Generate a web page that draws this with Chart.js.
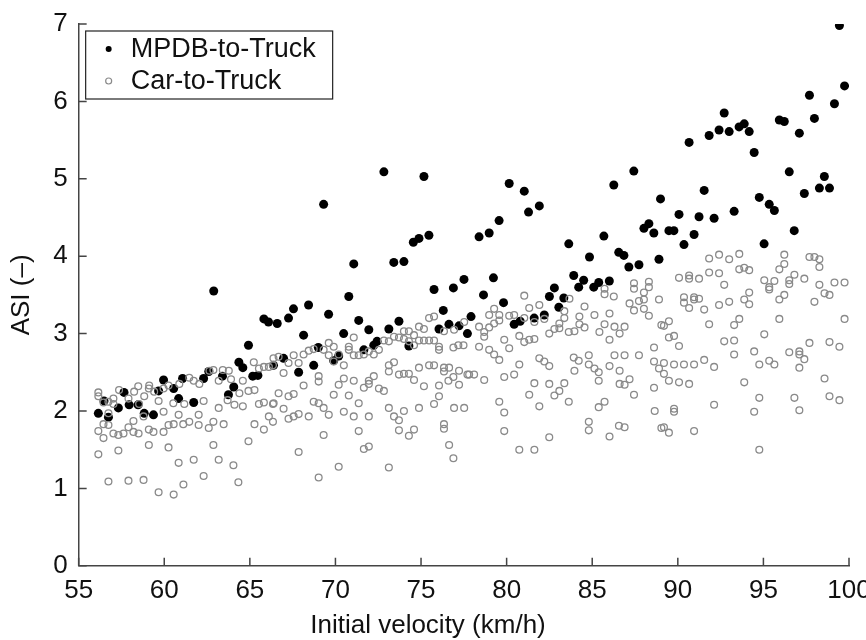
<!DOCTYPE html>
<html>
<head>
<meta charset="utf-8">
<title>ASI vs initial velocity</title>
<script src="https://cdn.jsdelivr.net/npm/chart.js@4.4.1/dist/chart.umd.min.js"></script>
<style>
  html, body { margin: 0; padding: 0; background: #fff; }
  #wrap { width: 866px; height: 640px; }
</style>
</head>
<body>
<div id="wrap"><canvas id="myChart" width="866" height="640"></canvas></div>
<script>
// series labels + axis titles
const seriesLabels = ['MPDB-to-Truck', 'Car-to-Truck'];
const xTitle = 'Initial velocity (km/h)';
const yTitle = 'ASI (\u2013)';

// tick labels
const xTicks = [55, 60, 65, 70, 75, 80, 85, 90, 95, 100];
const yTicks = [0, 1, 2, 3, 4, 5, 6, 7];

// MPDB-to-Truck (filled dots)
const mpdbVelocity = [
  56.15, 56.48, 56.74, 57.32, 57.65, 57.95, 58.47, 58.83, 59.37, 59.67,
  59.96, 60.55, 60.84, 61.07, 61.72, 62.30, 62.60, 62.89, 63.40, 63.75,
  64.06, 64.36, 64.59, 64.92, 65.17, 65.47, 65.82, 66.09, 66.38, 66.60,
  66.97, 67.26, 67.55, 67.85, 68.14, 68.43, 68.73, 69.00, 69.31, 69.60,
  69.90, 70.19, 70.48, 70.78, 71.07, 71.36, 71.66, 71.95, 72.24, 72.43,
  72.83, 73.12, 73.41, 73.71, 74.00, 74.29, 74.55, 74.88, 75.17, 75.46,
  75.76, 76.05, 76.30, 76.63, 76.89, 77.22, 77.51, 77.71, 77.92, 78.39,
  78.65, 78.98, 79.23, 79.56, 79.82, 80.15, 80.44, 80.79, 81.03, 81.28,
  81.61, 81.91, 82.20, 82.50, 82.79, 83.05, 83.34, 83.63, 83.92, 84.21,
  84.50, 84.84, 85.09, 85.38, 85.68, 86.00, 86.26, 86.55, 86.85, 87.14,
  87.43, 87.73, 88.02, 88.31, 88.60, 88.90, 88.99, 89.48, 89.77, 90.07,
  90.36, 90.66, 90.95, 91.24, 91.54, 91.83, 92.12, 92.41, 92.71, 93.00,
  93.29, 93.58, 93.88, 94.17, 94.46, 94.76, 95.04, 95.34, 95.64, 95.93,
  96.22, 96.51, 96.80, 97.10, 97.39, 97.69, 97.98, 98.27, 98.56, 98.86,
  99.15, 99.44, 99.74
];
const mpdbAsi = [
  1.97, 2.13, 1.92, 2.04, 2.24, 2.08, 2.08, 1.97, 1.95, 2.26,
  2.40, 2.29, 2.16, 2.42, 2.11, 2.42, 2.51, 3.55, 2.45, 2.21,
  2.31, 2.63, 2.56, 2.85, 2.45, 2.46, 3.19, 3.15, 2.59, 3.13,
  2.68, 3.20, 3.32, 2.50, 2.98, 3.37, 2.59, 2.82, 4.67, 3.25,
  2.65, 2.71, 3.00, 3.48, 3.90, 3.17, 2.79, 3.05, 2.85, 2.90,
  5.09, 3.06, 3.92, 3.16, 3.93, 2.84, 4.18, 4.23, 5.03, 4.27,
  3.57, 3.06, 3.30, 3.12, 3.59, 3.10, 3.70, 3.00, 3.22, 4.25,
  3.50, 4.30, 3.72, 4.46, 3.40, 4.94, 3.12, 3.16, 4.84, 4.57,
  3.20, 4.65, 3.24, 3.48, 3.59, 3.34, 3.46, 4.16, 3.75, 3.60,
  3.69, 3.99, 3.60, 3.66, 4.26, 3.68, 4.92, 4.05, 4.01, 3.86,
  5.10, 3.89, 4.36, 4.42, 4.30, 3.96, 4.74, 4.33, 4.33, 4.54,
  4.15, 5.47, 4.28, 4.51, 4.85, 5.56, 4.49, 5.63, 5.85, 5.61,
  4.58, 5.67, 5.71, 5.61, 5.34, 4.76, 4.16, 4.67, 4.59, 5.76,
  5.74, 5.09, 4.33, 5.59, 4.81, 6.08, 5.78, 4.88, 5.03, 4.88,
  5.97, 6.98, 6.20
];

// Car-to-Truck (hollow circles)
const carVelocity = [
  // 55-66
  56.15, 56.15, 56.45, 56.74, 57.03, 57.36, 57.03, 57.91, 58.24, 58.48,
  58.53, 58.83, 59.12, 59.41, 59.10, 59.67, 59.96, 60.25, 60.53, 60.88,
  61.17, 61.46, 61.72, 62.05, 62.30, 62.64, 62.87, 63.18, 63.42, 63.77,
  63.90, 64.39, 64.59, 64.92, 65.27, 65.23, 65.53, 65.82, 66.11, 66.38,
  66.35, 65.53, 65.82, 66.35, 66.11, 66.35, 65.27, 65.82, 64.92, 64.59,
  64.10, 63.70, 63.18, 62.87, 63.47, 62.60, 62.01, 62.01, 61.46, 61.11,
  60.84, 60.55, 60.25, 59.96, 59.96, 59.37, 59.10, 58.79, 58.50, 58.20,
  58.20, 57.91, 57.62, 57.32, 57.03, 56.74, 56.45, 56.15, 56.45, 56.74,
  56.15, 57.32, 59.10, 60.25, 62.87, 60.84, 61.72, 63.18, 64.04, 56.74,
  57.91, 58.79, 62.30, 61.12, 64.33, 59.67, 60.55,
  // 66-78
  66.68, 66.97, 67.26, 67.56, 67.85, 68.14, 68.44, 68.73, 69.31, 69.61,
  69.90, 69.61, 69.90, 70.19, 70.49, 70.78, 71.07, 70.78, 71.07, 71.36,
  71.66, 71.95, 72.24, 72.54, 72.83, 73.12, 73.42, 73.71, 74.00, 74.29,
  74.59, 74.88, 75.17, 75.47, 75.76, 74.00, 74.29, 74.59, 74.88, 75.17,
  75.47, 75.76, 76.05, 76.05, 76.34, 76.93, 77.52, 76.89, 77.18, 77.48,
  68.14, 69.02, 69.02, 70.19, 70.49, 71.07, 71.66, 71.95, 71.95, 72.24,
  72.54, 72.83, 73.12, 73.42, 73.12, 73.71, 74.00, 74.29, 74.59, 74.88,
  75.17, 75.47, 75.76, 76.05, 76.34, 76.34, 76.64, 76.60, 76.89, 77.22,
  77.22, 77.71, 66.68, 67.26, 67.56, 66.39, 66.97, 67.26, 67.56, 67.85,
  68.44, 68.73, 69.02, 69.31, 69.61, 69.90, 70.49, 70.78, 71.07, 71.36,
  71.95, 73.12, 73.42, 73.71, 74.00, 74.88, 75.76, 76.05, 76.34, 76.34,
  76.93, 77.52, 73.71, 74.29, 74.59, 71.36, 69.31, 67.85, 71.66, 71.95,
  76.64, 76.89, 70.19, 73.12, 69.02,
  // 78-89
  78.39, 78.39, 78.69, 78.98, 79.27, 79.57, 79.57, 79.27, 78.98, 78.69,
  79.86, 80.15, 80.15, 80.44, 80.74, 81.03, 81.03, 81.32, 81.32, 81.62,
  81.91, 81.03, 81.62, 82.20, 82.49, 82.79, 83.08, 83.08, 83.37, 83.37,
  83.67, 83.63, 83.96, 84.25, 84.25, 84.55, 84.55, 85.13, 85.42, 85.72,
  85.72, 85.72, 86.01, 86.01, 86.26, 86.30, 86.60, 86.89, 87.18, 87.44,
  87.44, 87.44, 87.73, 88.02, 88.02, 88.02, 88.31, 88.31, 88.31, 88.90,
  89.04, 78.98, 79.27, 79.57, 79.86, 80.44, 80.74, 81.91, 82.20, 82.49,
  83.92, 84.21, 84.80, 84.80, 85.13, 85.38, 85.38, 86.01, 86.30, 86.60,
  86.60, 86.89, 86.89, 87.18, 87.73, 88.61, 88.61, 88.61, 88.65, 77.81,
  78.10, 78.69, 81.62, 82.49, 82.79, 83.08, 83.37, 81.32, 83.63, 83.96,
  81.91, 79.57, 79.86, 79.86, 85.38, 85.72, 84.80, 84.80, 86.56, 86.89,
  87.44, 86.01, 82.49, 80.74, 81.62, 89.04,
  // 89-100
  91.83, 92.41, 93.00, 93.59, 93.59, 93.88, 94.17, 91.83, 92.41, 91.24,
  90.66, 90.66, 90.07, 92.71, 95.05, 95.34, 95.34, 95.64, 95.93, 96.22,
  96.22, 96.51, 96.51, 96.81, 97.39, 97.69, 97.98, 98.27, 98.27, 98.27,
  99.15, 99.74, 98.57, 98.86, 97.98, 96.22, 95.93, 94.17, 93.88, 94.17,
  93.00, 92.41, 91.24, 90.95, 90.95, 90.36, 90.36, 90.66, 91.54, 93.59,
  93.29, 91.83, 89.48, 89.19, 89.48, 89.78, 90.07, 95.93, 99.74, 95.05,
  92.71, 93.29, 93.29, 94.46, 96.51, 97.10, 97.10, 97.39, 97.69, 98.86,
  99.44, 97.10, 95.34, 95.64, 94.76, 92.12, 91.54, 90.95, 90.36, 89.78,
  89.19, 88.90, 89.19, 89.48, 90.07, 90.66, 93.88, 98.57, 94.76, 96.81,
  98.86, 99.44, 92.12, 89.78, 89.78, 94.46, 97.10, 89.19, 89.48, 90.95,
  94.76
];
const carAsi = [
  // 55-66
  2.24, 2.19, 2.11, 2.12, 2.16, 2.27, 2.09, 2.16, 2.25, 2.32,
  2.09, 2.19, 2.33, 2.25, 2.29, 2.13, 2.29, 2.33, 2.10, 2.35,
  2.09, 2.43, 2.39, 2.35, 2.13, 2.52, 2.53, 2.39, 2.53, 2.52,
  2.41, 2.23, 2.39, 2.26, 2.27, 2.63, 2.55, 2.57, 2.57, 2.68,
  2.59, 2.09, 2.11, 2.09, 1.93, 1.86, 1.83, 1.76, 1.61, 2.06,
  2.08, 2.14, 2.04, 1.86, 1.83, 1.78, 1.95, 1.82, 1.86, 1.83,
  1.95, 1.83, 1.82, 1.99, 1.73, 1.73, 1.76, 1.93, 1.71, 1.73,
  1.87, 1.79, 1.71, 1.69, 1.71, 1.82, 1.83, 1.74, 1.65, 1.97,
  1.44, 1.49, 1.56, 1.53, 1.56, 1.33, 1.37, 1.37, 1.30, 1.09,
  1.10, 1.11, 1.16, 1.05, 1.08, 0.95, 0.92,
  // 66-78
  2.70, 2.49, 2.62, 2.72, 2.62, 2.73, 2.78, 2.80, 2.79, 2.88,
  2.83, 2.72, 2.64, 2.73, 2.59, 2.83, 2.95, 2.79, 2.72, 2.72,
  2.73, 2.77, 2.73, 2.79, 2.91, 2.90, 2.96, 2.95, 3.03, 3.03,
  2.98, 3.09, 3.06, 3.20, 3.22, 2.93, 2.90, 2.85, 2.91, 2.91,
  2.91, 2.91, 2.83, 2.79, 3.03, 3.05, 3.15, 2.82, 2.85, 2.85,
  2.33, 2.45, 2.38, 2.34, 2.42, 2.39, 2.30, 2.35, 2.39, 2.45,
  2.29, 2.26, 2.51, 2.63, 2.59, 2.47, 2.48, 2.48, 2.40, 2.56,
  2.32, 2.59, 2.59, 2.33, 2.56, 2.51, 2.56, 2.39, 2.44, 2.52,
  2.34, 2.47, 2.23, 2.19, 2.22, 2.10, 2.03, 1.90, 1.93, 1.96,
  1.93, 2.12, 2.10, 2.04, 1.95, 2.21, 1.99, 2.20, 1.93, 2.10,
  1.93, 2.04, 1.93, 1.88, 2.00, 2.04, 2.09, 2.19, 1.83, 1.77,
  2.04, 2.04, 1.75, 1.68, 1.76, 1.74, 1.69, 1.47, 1.51, 1.54,
  1.56, 1.39, 1.28, 1.27, 1.14,
  // 78-89
  3.09, 2.83, 2.96, 3.24, 3.32, 3.24, 3.17, 3.13, 3.08, 3.02,
  2.92, 2.81, 3.23, 3.24, 2.97, 3.49, 2.89, 3.33, 2.92, 2.93,
  3.37, 3.20, 3.15, 3.19, 3.00, 3.06, 3.07, 3.13, 3.29, 3.20,
  3.45, 3.02, 3.03, 3.22, 3.12, 3.35, 3.08, 3.24, 3.02, 3.12,
  3.51, 3.58, 3.26, 2.92, 3.48, 3.09, 3.00, 3.09, 3.39, 3.65,
  3.58, 3.30, 3.42, 3.44, 3.53, 3.32, 3.67, 3.60, 3.23, 3.44,
  3.11, 2.79, 2.73, 2.66, 2.44, 2.47, 2.60, 2.68, 2.64, 2.58,
  2.69, 2.65, 2.72, 2.60, 2.55, 2.50, 2.39, 2.58, 2.72, 2.52,
  2.35, 2.34, 2.72, 2.41, 2.72, 2.82, 2.64, 2.30, 2.00, 2.47,
  2.47, 2.40, 2.36, 2.35, 2.20, 2.26, 2.36, 2.21, 2.12, 2.52,
  2.06, 2.12, 1.98, 1.74, 2.05, 2.12, 1.86, 1.75, 1.81, 1.79,
  2.21, 1.67, 1.66, 1.50, 1.50, 1.78,
  // 89-100
  3.97, 4.02, 3.96, 4.03, 3.83, 3.85, 3.82, 3.79, 3.78, 3.71,
  3.75, 3.71, 3.72, 3.63, 3.69, 3.60, 3.57, 3.68, 3.83, 3.90,
  4.02, 3.69, 3.64, 3.76, 3.71, 3.99, 3.99, 3.96, 3.86, 3.63,
  3.66, 3.66, 3.52, 3.50, 3.41, 3.50, 3.44, 3.53, 3.44, 3.38,
  3.41, 3.37, 3.45, 3.47, 3.44, 3.47, 3.40, 3.33, 3.31, 3.19,
  3.11, 3.12, 3.16, 3.10, 2.95, 2.97, 2.84, 3.19, 3.19, 2.99,
  2.90, 2.91, 2.73, 2.77, 2.76, 2.77, 2.73, 2.67, 2.88, 2.89,
  2.83, 2.56, 2.65, 2.60, 2.60, 2.57, 2.66, 2.60, 2.60, 2.60,
  2.62, 2.55, 2.48, 2.39, 2.37, 2.35, 2.37, 2.42, 2.17, 2.17,
  2.19, 2.14, 2.08, 2.03, 1.99, 1.99, 2.01, 1.79, 1.72, 1.74,
  1.50
];

const fontFamily = '"Liberation Sans", Arial, Helvetica, sans-serif';

// pair up x/y arrays for a scatter dataset
function toPoints(xs, ys) {
  return xs.map((x, i) => ({ x: x, y: ys[i] }));
}

// inward tick marks, boxed legend and the x title (drawn by hand)
const frameExtras = {
  id: 'frameExtras',
  afterDraw(chart) {
    const c = chart.ctx;
    const area = chart.chartArea;
    const xs = chart.scales.x;
    const ys = chart.scales.y;
    c.save();

    // ticks point into the plot
    c.strokeStyle = '#444';
    c.lineWidth = 1.5;
    c.beginPath();
    xs.ticks.forEach((t) => {
      const px = xs.getPixelForValue(t.value);
      c.moveTo(px, area.bottom);
      c.lineTo(px, area.bottom - 8);
    });
    ys.ticks.forEach((t) => {
      const py = ys.getPixelForValue(t.value);
      c.moveTo(area.left, py);
      c.lineTo(area.left + 8, py);
    });
    c.stroke();

    // legend box, top left inside the plot
    const left = area.left + 7;
    const top = area.top + 7;
    c.fillStyle = '#fff';
    c.fillRect(left, top, 247, 68);
    c.strokeStyle = '#222';
    c.lineWidth = 1.2;
    c.strokeRect(left, top, 247, 68);
    c.font = '27px ' + fontFamily;
    c.textBaseline = 'middle';
    c.textAlign = 'left';
    chart.data.datasets.forEach((ds, i) => {
      const cy = top + 18 + i * 32;
      c.beginPath();
      c.arc(left + 23, cy, 3, 0, Math.PI * 2);
      if (i === 0) {
        c.fillStyle = ds.pointBackgroundColor;
        c.fill();
      } else {
        c.strokeStyle = ds.pointBorderColor;
        c.lineWidth = 1.2;
        c.stroke();
      }
      c.fillStyle = '#111';
      c.fillText(ds.label, left + 45, cy + 1);
    });

    // x axis title (sits centred on the figure, not on the plot)
    c.font = '26px ' + fontFamily;
    c.fillStyle = '#111';
    c.textAlign = 'center';
    c.fillText(xTitle, 428, 626);
    c.restore();
  }
};

const ctx = document.getElementById('myChart').getContext('2d');
const myChart = new Chart(ctx, {
  type: 'scatter',
  data: {
    datasets: [
      {
        label: seriesLabels[0],
        data: toPoints(mpdbVelocity, mpdbAsi),
        pointRadius: 4.5,
        pointBackgroundColor: '#000',
        pointBorderColor: '#000',
        pointBorderWidth: 0,
        order: 2,
      },
      {
        label: seriesLabels[1],
        data: toPoints(carVelocity, carAsi),
        pointRadius: 3.4,
        pointBackgroundColor: 'rgba(0,0,0,0)',
        pointBorderColor: '#8a8a8a',
        pointBorderWidth: 1.3,
        order: 1,
      },
    ],
  },
  options: {
    responsive: false,
    animation: false,
    devicePixelRatio: 1,
    layout: { padding: { top: 24, right: 0, bottom: 25, left: 0 } },
    plugins: {
      legend: { display: false },
      tooltip: { enabled: false },
    },
    scales: {
      x: {
        type: 'linear',
        min: 55,
        max: 100,
        afterBuildTicks: (scale) => { scale.ticks = xTicks.map((v) => ({ value: v })); },
        // the "100" label may run to the edge, like the original
        afterFit: (scale) => { scale.paddingRight = 17; },
        grid: { display: false, drawTicks: false, tickLength: 0 },
        border: { display: true, color: '#444', width: 1.5 },
        ticks: { font: { size: 26, family: fontFamily }, color: '#111', padding: 9, maxRotation: 0 },
        title: { display: false },
      },
      y: {
        type: 'linear',
        min: 0,
        max: 7,
        afterBuildTicks: (scale) => { scale.ticks = yTicks.map((v) => ({ value: v })); },
        // let the layout padding alone decide where the top of the plot sits
        afterFit: (scale) => { scale.paddingTop = 0; },
        grid: { display: false, drawTicks: false, tickLength: 0 },
        border: { display: true, color: '#444', width: 1.5 },
        ticks: { font: { size: 26, family: fontFamily }, color: '#111', padding: 11 },
        title: {
          display: true,
          text: yTitle,
          font: { size: 26, family: fontFamily },
          color: '#111',
          padding: { top: 6, bottom: 5 },
        },
      },
    },
  },
  plugins: [frameExtras],
});
</script>
</body>
</html>
